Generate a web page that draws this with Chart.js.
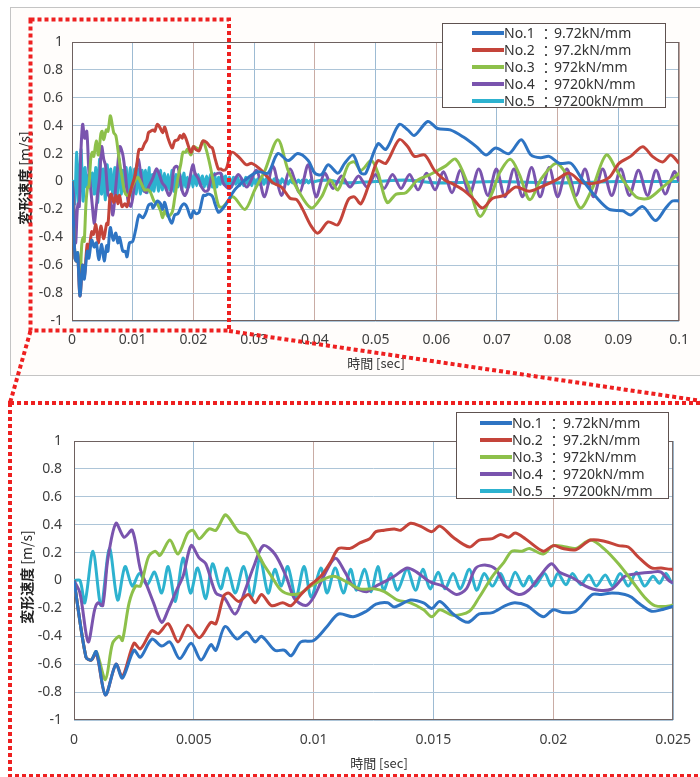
<!DOCTYPE html>
<html>
<head>
<meta charset="utf-8">
<script src="https://cdn.jsdelivr.net/npm/chart.js@4.4.1/dist/chart.umd.min.js"></script>
<style>
  html, body { margin: 0; padding: 0; width: 700px; height: 777px; overflow: hidden; background: #fff; }
  body { position: relative; font-family: "Noto Sans", sans-serif; color: #333; }
  #topFrame { position: absolute; left: 10px; top: 7px; width: 700px; height: 369px; box-sizing: border-box;
              border: 1px solid #c4c4c4; background: #fffdfb; }
  canvas.chart { position: absolute; }
  #marks { position: absolute; left: 0; top: 0; z-index: 10; pointer-events: none; }
  .ytitle { position: absolute; transform: translate(-50%, -50%) rotate(-90deg); white-space: nowrap;
            font-size: 14px; font-family: "Noto Sans CJK JP", sans-serif; color: #222; }
  .ytitle b { font-weight: bold; }
  .xtitle { position: absolute; transform: translate(-50%, -50%); white-space: nowrap;
            font-size: 13px; font-family: "Noto Sans CJK JP", sans-serif; color: #333; }
  .legend { position: absolute; background: #fff; border: 1px solid #5e5250; box-sizing: border-box; z-index: 5; }
  .legend .ln { position: absolute; height: 4px; margin-top: -2px; }
  .legend .tx { position: absolute; font-size: 14px; line-height: 16px; margin-top: -8px; white-space: nowrap; color: #333; }
  .legend .co { font-family: "Noto Sans CJK JP", sans-serif; }
</style>
</head>
<body>
<div id="topFrame"></div>
<canvas id="topChart" class="chart" width="690" height="368" style="left:10px;top:7px"></canvas>
<canvas id="bottomChart" class="chart" width="693" height="370" style="left:10px;top:405px"></canvas>
<div class="ytitle" style="left:24px;top:178px"><b>変形速度</b> [m/s]</div>
<div class="ytitle" style="left:26px;top:577px"><b>変形速度</b> [m/s]</div>
<div class="xtitle" style="left:376px;top:362px">時間 [sec]</div>
<div class="xtitle" style="left:379px;top:762px">時間 [sec]</div>
<div id="legendTop" class="legend" style="left:442px;top:23px;width:224px;height:85px"></div>
<div id="legendBottom" class="legend" style="left:456px;top:412px;width:213px;height:87px"></div>
<canvas id="marks" width="700" height="777"></canvas>

<script>
// series labels and colours
const seriesNames = ['No.1', 'No.2', 'No.3', 'No.4', 'No.5'];
const stiffness = ['9.72kN/mm', '97.2kN/mm', '972kN/mm', '9720kN/mm', '97200kN/mm'];
const colors = ['#2E74C3', '#C4443A', '#8DC04A', '#7A54AE', '#2DB2CF'];

// [time ms, velocity m/s]
const no1 = [[0,0],[0.5,-0.55],[0.72,-0.57],[0.93,-0.51],[1.31,-0.82],[1.75,-0.6],[2.02,-0.70],[2.5,-0.50],[2.77,-0.55],
  [3.25,-0.42],[3.66,-0.47],[4.0,-0.44],[4.41,-0.56],[4.89,-0.45],[5.3,-0.57],[5.71,-0.46],[5.92,-0.50],[6.3,-0.33],
  [6.8,-0.42],[7.21,-0.37],[7.56,-0.44],[7.83,-0.40],[8.38,-0.50],[8.78,-0.50],[9.06,-0.54],[9.47,-0.44],[10.0,-0.43],
  [10.56,-0.33],[11.04,-0.24],[11.65,-0.26],[12.2,-0.22],[12.6,-0.17],[13.09,-0.16],[13.36,-0.19],[14.04,-0.14],
  [14.59,-0.16],[14.93,-0.20],[15.27,-0.15],[15.82,-0.24],[16.43,-0.30],[16.91,-0.24],[17.46,-0.23],[18.0,-0.18],
  [18.4,-0.16],[18.9,-0.18],[19.58,-0.26],[20.0,-0.21],[20.4,-0.23],[20.94,-0.22],[21.63,-0.10],[22.0,-0.10],
  [22.45,-0.09],[22.99,-0.10],[23.27,-0.12],[23.54,-0.16],[24.1,-0.22],[24.5,-0.21],[24.9,-0.19],[25.4,-0.16],
  [26.8,-0.06],[28.5,0.01],[30.6,0.07],[32.3,0.06],[33.9,0.20],[35.6,0.15],[37.2,0.20],[38.9,0.15],[40.0,0.06],
  [41.1,0.05],[42.2,0.12],[43.8,0.06],[44.9,0.13],[46.3,0.19],[47.6,0.06],[48.4,0.06],[50.4,0.27],[51.7,0.23],
  [53.9,0.41],[55.3,0.37],[56.4,0.33],[58.6,0.43],[60.2,0.38],[62.3,0.37],[64.4,0.32],[66.6,0.25],[68.2,0.19],
  [69.8,0.24],[72.0,0.20],[74.0,0.30],[75.6,0.19],[77.2,0.17],[78.6,0.18],[80.3,0.13],[82.2,0.13],[84.1,0.01],
  [86.3,-0.11],[88.5,-0.20],[90.7,-0.21],[92.0,-0.24],[94.0,-0.18],[96.1,-0.28],[97.8,-0.19],[98.9,-0.14],[100,-0.14]];

const no2 = [[0,0],[0.5,-0.55],[0.72,-0.57],[0.93,-0.52],[1.31,-0.82],[1.75,-0.6],[2.02,-0.69],[2.5,-0.45],[2.77,-0.49],
  [3.25,-0.36],[3.52,-0.38],[3.93,-0.31],[4.34,-0.44],[4.75,-0.32],[5.23,-0.41],[5.71,-0.30],[5.92,-0.31],[6.25,-0.11],
  [6.46,-0.09],[6.87,-0.15],[7.27,-0.10],[7.56,-0.16],[7.83,-0.10],[8.24,-0.18],[8.71,-0.16],[9.06,-0.18],[9.47,-0.10],
  [9.88,-0.03],[10.3,0.03],[10.7,0.13],[11.04,0.23],[11.52,0.23],[11.93,0.27],[12.34,0.30],[12.6,0.35],[12.95,0.36],
  [13.36,0.37],[13.63,0.36],[14.04,0.41],[14.45,0.39],[14.93,0.35],[15.27,0.39],[15.82,0.31],[16.5,0.24],[16.91,0.29],
  [17.46,0.30],[17.8,0.33],[18.14,0.31],[18.41,0.34],[18.83,0.30],[19.58,0.21],[20.0,0.25],[20.4,0.23],[20.94,0.22],
  [21.56,0.29],[22.17,0.28],[22.72,0.25],[23.13,0.24],[23.54,0.17],[24.1,0.09],[24.5,0.09],[24.9,0.08],[25.4,0.09],
  [26.3,0.21],[27.6,0.17],[28.7,0.12],[29.6,0.13],[31.2,0.08],[33.1,-0.01],[34.5,-0.04],[35.9,-0.12],[37.0,-0.13],
  [38.0,-0.20],[39.4,-0.32],[40.5,-0.37],[42.2,-0.29],[43.8,-0.31],[45.5,-0.13],[46.5,-0.11],[47.6,-0.16],[49.3,0.03],
  [50.4,0.15],[51.7,0.13],[53.9,0.30],[55.3,0.25],[56.4,0.18],[58.1,0.19],[59.7,0.08],[61.4,0.01],[62.4,-0.01],
  [64.4,-0.06],[66.0,-0.12],[67.6,-0.19],[69.3,-0.12],[71.2,-0.10],[73.1,-0.04],[75.3,-0.07],[77.2,-0.04],[79.7,0.01],
  [81.9,0.06],[84.1,-0.01],[86.3,-0.01],[88.5,0.03],[90.1,0.13],[92.0,0.18],[94.0,0.25],[95.6,0.18],[97.3,0.14],
  [98.6,0.19],[100,0.13]];

const no3 = [[0,0],[0.5,-0.55],[0.72,-0.57],[0.93,-0.51],[1.31,-0.71],[1.61,-0.45],[1.89,-0.40],[2.02,-0.43],[2.3,-0.16],
  [2.57,-0.04],[2.77,-0.04],[3.11,0.17],[3.39,0.21],[3.59,0.18],[4.0,0.29],[4.34,0.19],[4.75,0.34],[4.96,0.36],
  [5.23,0.30],[5.64,0.37],[5.92,0.36],[6.3,0.47],[6.46,0.45],[6.87,0.35],[7.21,0.33],[7.56,0.23],[7.9,0.12],
  [8.24,0.03],[8.64,-0.07],[9.06,-0.10],[9.47,-0.09],[9.88,-0.04],[10.3,0.0],[10.83,0.03],[11.38,-0.01],[11.93,-0.06],
  [12.54,-0.06],[12.95,-0.08],[13.5,-0.14],[14.04,-0.16],[14.59,-0.21],[14.93,-0.26],[15.27,-0.21],[15.82,-0.25],
  [16.5,-0.22],[16.91,-0.12],[17.46,0.03],[17.94,0.13],[18.27,0.21],[18.7,0.21],[19.0,0.23],[19.58,0.19],[20.0,0.25],
  [20.53,0.24],[20.94,0.23],[21.56,0.29],[22.17,0.22],[22.72,0.12],[23.27,0.0],[23.81,-0.12],[24.23,-0.18],[24.9,-0.18],
  [26.5,-0.11],[28.5,-0.20],[30.1,-0.06],[31.7,0.07],[33.9,0.30],[35.6,0.08],[37.2,-0.06],[39.4,-0.19],[41.1,-0.11],
  [42.5,0.01],[43.8,-0.06],[45.5,0.12],[46.5,0.14],[47.6,0.08],[49.3,0.15],[50.4,0.06],[51.9,-0.15],[53.4,-0.09],
  [55.0,-0.08],[56.9,0.01],[59.0,0.05],[61.5,0.11],[63.2,0.16],[65.3,-0.03],[67.2,-0.25],[69.3,-0.07],[70.4,0.06],
  [72.2,0.16],[73.7,0.05],[75.4,-0.13],[77.3,0.02],[79.7,0.13],[81.3,0.06],[83.7,-0.19],[85.7,-0.05],[88.0,0.19],
  [90.0,0.06],[92.9,-0.11],[95.0,-0.12],[97.3,-0.04],[100,0.06]];

const no4 = [[0,0],[0.25,-0.09],[0.59,-0.44],[0.86,-0.21],[1.0,-0.16],[1.2,-0.18],[1.41,0.15],[1.75,0.41],[2.09,0.31],
  [2.43,0.36],[2.77,0.08],[3.05,-0.04],[3.32,-0.16],[3.66,-0.30],[3.93,-0.21],[4.28,-0.07],[4.55,0.03],[4.89,0.25],
  [5.23,0.16],[5.5,0.12],[5.92,-0.09],[6.26,-0.12],[6.73,-0.24],[7.14,-0.07],[7.5,0.10],[7.9,0.25],[8.38,0.19],
  [8.85,0.03],[9.2,-0.13],[9.67,-0.18],[10.0,-0.12],[10.42,0.03],[10.9,0.16],[11.31,0.06],[11.65,-0.04],[12.2,-0.08],
  [12.6,-0.04],[12.95,-0.01],[13.36,0.03],[13.9,0.09],[14.3,0.06],[14.86,-0.01],[15.4,-0.04],[15.96,-0.10],
  [16.37,-0.06],[16.77,0.09],[17.2,0.11],[17.6,0.08],[18.0,-0.04],[18.55,-0.10],[18.96,-0.07],[19.44,0.03],
  [19.92,0.12],[20.26,0.06],[20.8,0.02],[21.35,-0.04],[21.9,-0.07],[22.45,-0.06],[22.99,0.03],[23.54,0.05],
  [24.1,0.06],[24.5,0.06],[24.9,-0.01],[26.0,-0.05],[27.4,0.05],[28.8,-0.04],[30.4,0.08],[31.7,-0.11],[33.1,0.11],
  [34.5,-0.10],[35.9,0.09],[37.5,-0.08],[38.9,0.12],[40.2,-0.11],[41.6,0.06],[43.0,-0.05],[44.4,0.04],[45.8,-0.04],
  [47.2,0.04],[48.6,-0.04],[50.0,0.05],[51.4,-0.05],[52.8,0.05],[54.2,-0.05],[55.6,0.05],[57.0,-0.06],[58.4,0.06],
  [59.8,-0.06],[61.2,0.07],[62.6,-0.08],[64.0,0.08],[65.5,-0.09],[67.0,0.09],[68.5,-0.10],[69.9,0.09],[71.3,-0.11],
  [72.8,0.09],[74.2,-0.11],[75.7,0.10],[77.1,-0.11],[78.6,0.10],[80.0,-0.11],[81.5,0.09],[83.0,-0.10],[84.5,0.09],
  [85.9,-0.11],[87.4,0.09],[88.9,-0.10],[90.4,0.09],[91.8,-0.10],[93.3,0.08],[94.8,-0.10],[96.2,0.08],[97.7,-0.09],
  [99.2,0.07],[100,0.0]];

const no5 = [[0,0],[0.25,0],[0.45,-0.16],[0.79,0.21],[1.13,-0.18],[1.48,0.23],[1.82,-0.14],[2.13,0.10],[2.43,-0.04],
  [2.73,0.05],[3.05,-0.03],[3.36,0.06],[3.66,-0.09],[3.93,0.10],[4.23,-0.15],[4.55,0.16],[4.86,-0.09],[5.16,0.09],
  [5.5,-0.13],[5.78,0.12],[6.12,-0.06],[6.39,0.09],[6.73,-0.09],[7.08,0.10],[7.42,-0.12],[7.76,0.16],[8.1,-0.09],
  [8.38,0.08],[8.65,-0.04],[8.92,0.10],[9.26,-0.12],[9.6,0.10],[9.9,-0.12],[10.3,0.09],[10.56,-0.09],[10.9,0.09],
  [11.24,-0.09],[11.54,0.08],[11.79,-0.07],[12.13,0.08],[12.4,-0.08],[12.68,0.10],[12.92,-0.07],[13.22,0.05],
  [13.5,-0.07],[13.9,0.08],[14.25,-0.07],[14.56,0.08],[14.86,-0.06],[15.2,0.06],[15.48,-0.06],[15.82,0.05],
  [16.12,-0.06],[16.5,0.08],[16.8,-0.07],[17.12,0.05],[17.46,-0.04],[17.8,0.05],[18.1,-0.06],[18.41,0.06],
  [18.75,-0.04],[19.0,0.03],[19.23,-0.04],[19.64,0.05],[19.92,-0.04],[20.19,0.05],[20.53,-0.03],[20.8,0.05],
  [21.15,-0.03],[21.49,0.04],[21.79,-0.04],[22.17,0.04],[22.47,-0.04],[22.79,0.05],[23.13,-0.04],[23.47,0.06],
  [23.81,-0.04],[24.16,0.03],[24.43,-0.02],[24.7,0.05],[24.98,-0.02],[25.3,0.04],[25.6,-0.03],[25.95,0.03],
  [26.3,-0.04],[26.6,0.03],[26.95,-0.02],[27.3,0.03],[27.6,-0.03],[27.95,0.02],[28.3,-0.03],[28.6,0.03],[28.95,-0.02],
  [29.3,0.02],[29.6,-0.03],[29.95,0.02],[30.3,-0.02],[30.6,0.02],[30.95,-0.02],[31.3,0.03],[31.6,-0.02],[31.95,0.02],
  [32.3,-0.02],[32.6,0.02],[32.95,-0.01],[33.3,0.02],[33.6,-0.02],[33.95,0.01],[34.3,-0.02],[34.6,0.02],[34.95,-0.01],
  [35.3,0.01],[35.6,-0.02],[35.95,0.01],[36.3,-0.01],[36.6,0.02],[36.95,-0.01],[37.3,0.01],[37.6,-0.01],[37.95,0.01],
  [38.3,-0.01],[38.6,0.01],[38.95,-0.01],[39.3,0.01],[39.6,-0.01],[40.0,0.0],[42.0,0.01],[45.0,-0.01],[50.0,0.0],
  [55.0,0.01],[60.0,-0.01],[70.0,0.0],[80.0,-0.01],[90.0,0.0],[100,0.0]];

const seriesData = [no1, no2, no3, no4, no5];

// tick steps
const yTickStep = 0.2;
const topXMax = 0.1, topXStep = 0.01;
const bottomXMax = 0.025, bottomXStep = 0.005;

const framePlugin = {
  id: 'frame',
  beforeDraw(chart) {
    const { ctx, chartArea: a } = chart;
    ctx.save();
    ctx.fillStyle = '#ffffff';
    ctx.fillRect(a.left, a.top, a.right - a.left, a.bottom - a.top);
    ctx.restore();
  },
  beforeDatasetsDraw(chart) {
    const { ctx, chartArea: a } = chart;
    ctx.save();
    ctx.strokeStyle = '#6e6160';
    ctx.lineWidth = 1;
    ctx.strokeRect(a.left + 0.5, a.top + 0.5, a.right - a.left - 1, a.bottom - a.top - 1);
    ctx.restore();
  }
};

function makeChart(id, xMax, xStep, box) {
  const tickFont = { family: 'Noto Sans', size: 14 };
  const datasets = seriesData.map((pts, i) => ({
    label: seriesNames[i] + ' ： ' + stiffness[i],
    data: pts.map(p => ({ x: p[0] / 1000, y: p[1] })),
    showLine: true,
    borderColor: colors[i],
    borderWidth: 3,
    pointRadius: 0,
    tension: 0.3,
    fill: false
  }));
  return new Chart(document.getElementById(id), {
    type: 'scatter',
    data: { datasets },
    options: {
      responsive: false,
      animation: false,
      layout: { padding: { left: 0, top: box.top, right: box.right, bottom: 0 } },
      plugins: { legend: { display: false }, tooltip: { enabled: false } },
      scales: {
        x: {
          type: 'linear', min: 0, max: xMax,
          ticks: { stepSize: xStep, padding: box.xPad, font: tickFont, color: '#404040', maxRotation: 0,
                   autoSkip: false, callback: v => String(+v.toFixed(3)) },
          grid: { drawTicks: false, lineWidth: 1, color: c => (c.index % 2 ? '#9dbbd3' : '#c9aca5') },
          border: { display: false },
          afterFit: s => { s.height = box.bottom; }
        },
        y: {
          min: -1, max: 1,
          ticks: { stepSize: yTickStep, padding: box.yPad, font: tickFont, color: '#404040',
                   callback: v => String(+v.toFixed(1)) },
          grid: { drawTicks: false, lineWidth: 1, color: '#adc5d8' },
          border: { display: false },
          afterFit: s => { s.width = box.left; }
        }
      }
    },
    plugins: [framePlugin]
  });
}

makeChart('topChart', topXMax, topXStep, { left: 62, top: 35, right: 20, bottom: 54, xPad: 11, yPad: 9 });
makeChart('bottomChart', bottomXMax, bottomXStep, { left: 64, top: 36, right: 19, bottom: 55, xPad: 12, yPad: 12 });

function buildLegend(id, lay) {
  const el = document.getElementById(id);
  seriesNames.forEach((name, i) => {
    const y = lay.row0 + i * lay.step;
    const ln = document.createElement('div');
    ln.className = 'ln';
    ln.style.cssText = `left:${lay.lineX}px;top:${y}px;width:${lay.lineW}px;background:${colors[i]}`;
    el.appendChild(ln);
    [[name, lay.nameX, ''], ['：', lay.colonX, ' co'], [stiffness[i], lay.valueX, '']].forEach(([t, x, cls]) => {
      const s = document.createElement('div');
      s.className = 'tx' + cls;
      s.style.left = x + 'px';
      s.style.top = y + 'px';
      s.textContent = t;
      el.appendChild(s);
    });
  });
}
buildLegend('legendTop', { lineX: 29, lineW: 32, nameX: 61, colonX: 96, valueX: 111, row0: 9, step: 17 });
buildLegend('legendBottom', { lineX: 23, lineW: 32, nameX: 55, colonX: 90, valueX: 106, row0: 10, step: 17 });

// red dotted zoom marks
const m = document.getElementById('marks').getContext('2d');
m.strokeStyle = '#ee2020';
m.lineWidth = 4;
m.setLineDash([4, 3]);
m.strokeRect(30.5, 19.5, 198.5, 311);
m.beginPath();
m.moveTo(30.5, 331); m.lineTo(10, 403);
m.moveTo(229, 331); m.lineTo(702, 401);
m.stroke();
m.strokeRect(10, 403, 700, 373);
</script>
</body>
</html>
